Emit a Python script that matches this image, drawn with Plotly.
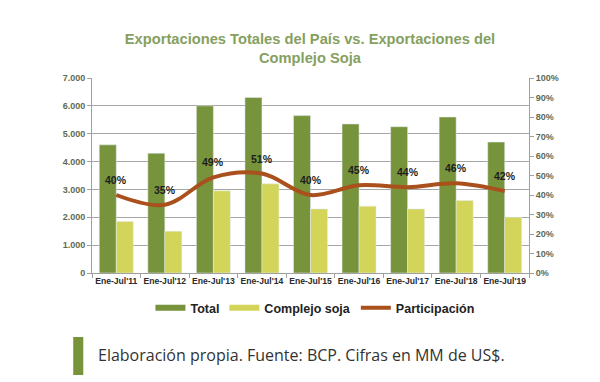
import plotly.graph_objects as go

categories = ["Ene-Jul'11", "Ene-Jul'12", "Ene-Jul'13", "Ene-Jul'14", "Ene-Jul'15",
              "Ene-Jul'16", "Ene-Jul'17", "Ene-Jul'18", "Ene-Jul'19"]
total = [4600, 4300, 6000, 6300, 5650, 5350, 5250, 5600, 4700]
soja = [1850, 1500, 2950, 3200, 2300, 2400, 2300, 2600, 2000]
participacion = [40, 35, 49, 51, 40, 45, 44, 46, 42]
left_ticks = [0, 1000, 2000, 3000, 4000, 5000, 6000, 7000]
right_ticks = [0, 10, 20, 30, 40, 50, 60, 70, 80, 90, 100]

GREEN = "#77933C"
YELLOW = "#D3D45A"
BROWN = "#A9501C"
FONT = "Liberation Sans, Arial"
YTICK = dict(family=FONT, size=9, color="#5E6A52", weight="bold")

# the page body adds an 8px offset, so the figure is 8px smaller than the window
W, H = 592, 374

fig = go.Figure()
fig.add_trace(go.Bar(x=categories, y=total, name="Total", marker_color=GREEN, showlegend=False))
fig.add_trace(go.Bar(x=categories, y=soja, name="Complejo soja", marker_color=YELLOW, showlegend=False))
fig.add_trace(go.Scatter(
    x=categories, y=participacion, name="Participación", yaxis="y2",
    mode="lines", line=dict(color=BROWN, width=4, shape="spline", smoothing=1.0),
    showlegend=False))

# legend entries (wide swatches like the original)
fig.add_trace(go.Scatter(x=[None], y=[None], mode="lines", name="Total",
                         line=dict(color=GREEN, width=6)))
fig.add_trace(go.Scatter(x=[None], y=[None], mode="lines", name="Complejo soja",
                         line=dict(color=YELLOW, width=6)))
fig.add_trace(go.Scatter(x=[None], y=[None], mode="lines", name="Participación",
                         line=dict(color=BROWN, width=4)))

# percentage data labels
for c, v in zip(categories, participacion):
    fig.add_annotation(x=c, y=v, yref="y2", text=f"<b>{v}%</b>", showarrow=False,
                       yshift=15, font=dict(family=FONT, size=10.5, color="#1E1E1E"))

fig.update_layout(
    width=W, height=H,
    paper_bgcolor="white", plot_bgcolor="white",
    margin=dict(l=84, r=71, t=70, b=109),
    separators=",.",
    barmode="group", bargap=0.3, bargroupgap=0.0,
    title=dict(text="<b>Exportaciones Totales del País vs. Exportaciones del<br>Complejo Soja</b>",
               x=(310 - 8) / W, xanchor="center", yref="container", y=1 - 36 / H,
               yanchor="middle",
               font=dict(family=FONT, size=14.7, color="#86A060")),
    xaxis=dict(tickfont=dict(family=FONT, size=8.6, color="#2A2A2A", weight="bold"),
               ticks="outside", tickson="boundaries", ticklen=4, tickcolor="#A0A0A0",
               showline=True, linecolor="#A0A0A0", linewidth=1, tickangle=0, automargin=False),
    yaxis=dict(range=[0, 7000], tickvals=left_ticks, tickformat=",d", automargin=False,
               tickfont=YTICK, showgrid=True, gridcolor="#A6A6A6",
               gridwidth=1, showline=True, linecolor="#A0A0A0",
               ticks="outside", ticklen=4, tickcolor="#A0A0A0", zeroline=False),
    yaxis2=dict(range=[0, 100], tickvals=right_ticks,
                ticktext=[f"{t}%" for t in right_ticks], overlaying="y", automargin=False,
                side="right", tickfont=YTICK, showgrid=False,
                showline=True, linecolor="#A0A0A0", ticks="outside", ticklen=4,
                tickcolor="#A0A0A0", zeroline=False),
    legend=dict(orientation="h", x=(310 - 8) / W, xanchor="center", yref="container",
                y=(H - 300) / H, yanchor="middle",
                font=dict(family=FONT, size=12.5, color="#222222", weight="bold"),
                traceorder="normal", itemwidth=30),
    showlegend=True,
)

# footer source note
fig.add_shape(type="rect", xref="paper", yref="paper", x0=-0.043, x1=-0.02,
              y0=-(337 - 273) / 195, y1=-(375 - 273) / 195, fillcolor=GREEN, line=dict(width=0))
fig.add_annotation(text="Elaboración propia. Fuente: BCP. Cifras en MM de US$.",
                   xref="paper", yref="paper", x=0.009, y=-(355 - 273) / 195,
                   xanchor="left", yanchor="middle",
                   showarrow=False, font=dict(family="Open Sans", size=16, color="#333333"))

fig.write_html("out.html")
